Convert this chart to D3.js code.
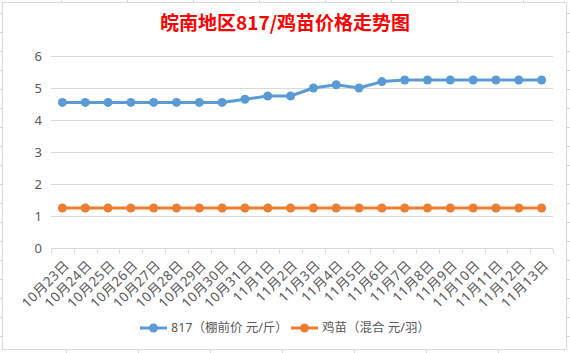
<!DOCTYPE html>
<html>
<head>
<meta charset="utf-8">
<script src="https://cdn.jsdelivr.net/npm/d3@7"></script>
<style>
  body { margin: 0; background: #fff; }
  svg text { font-family: "Noto Sans", "Noto Sans CJK SC", sans-serif; }
</style>
</head>
<body>
<svg id="drawing_region"></svg>
<script>
// chart data
const dates = ['10月23日','10月24日','10月25日','10月26日','10月27日','10月28日','10月29日','10月30日','10月31日',
    '11月1日','11月2日','11月3日','11月4日','11月5日','11月6日','11月7日','11月8日','11月9日','11月10日','11月11日','11月12日','11月13日'];
const price817 = [4.55,4.55,4.55,4.55,4.55,4.55,4.55,4.55,4.65,4.75,4.75,5.0,5.1,5.0,5.2,5.25,5.25,5.25,5.25,5.25,5.25,5.25];
const chickPrice = [1.25,1.25,1.25,1.25,1.25,1.25,1.25,1.25,1.25,1.25,1.25,1.25,1.25,1.25,1.25,1.25,1.25,1.25,1.25,1.25,1.25,1.25];
const yTicks = [0,1,2,3,4,5,6];
const seriesNames = ['817（棚前价 元/斤）', '鸡苗（混合 元/羽）'];
const seriesColors = ['#5B9BD5', '#ED7D31'];

const width = 570, height = 353;
const margin = {top: 56, right: 17, bottom: 105, left: 51};

const svg = d3.select('#drawing_region')
    .attr('width', width)
    .attr('height', height);

// spreadsheet cells peeking out round the chart
const bg = svg.append('g').attr('stroke', '#d4d4d4');
[61,127,193,259,325,391,457,523].forEach(x => {
    bg.append('line').attr('x1', x + 0.5).attr('x2', x + 0.5).attr('y1', 0).attr('y2', 3);
});
[66,138,210,282,354,426,498].forEach(x => {
    bg.append('line').attr('x1', x + 0.5).attr('x2', x + 0.5).attr('y1', 350).attr('y2', 353);
});
d3.range(13, 353, 19).forEach(y => {
    bg.append('line').attr('x1', 0).attr('x2', 3).attr('y1', y + 0.5).attr('y2', y + 0.5);
    bg.append('line').attr('x1', 567).attr('x2', 570).attr('y1', y + 0.5).attr('y2', y + 0.5);
});

// chart frame
svg.append('rect')
    .attr('x', 2.5).attr('y', 2.5)
    .attr('width', 564).attr('height', 347)
    .attr('fill', '#fff')
    .attr('stroke', '#d9d9d9');

const innerW = width - margin.left - margin.right;
const innerH = height - margin.top - margin.bottom;

const chart = svg.append('g')
    .attr('transform', `translate(${margin.left}, ${margin.top})`);

const xscale = d3.scaleBand().domain(dates).range([0, innerW]);
const yscale = d3.scaleLinear().domain([0, 6]).range([innerH, 0]);

// gridlines
chart.append('g')
    .selectAll('line')
    .data(yTicks.filter(d => d > 0))
    .join('line')
    .attr('x1', 0).attr('x2', innerW)
    .attr('y1', d => Math.round(yscale(d)) + 0.5)
    .attr('y2', d => Math.round(yscale(d)) + 0.5)
    .attr('stroke', '#d9d9d9');

// y axis labels
const yaxis = d3.axisLeft(yscale).tickValues(yTicks).tickFormat(d3.format('d')).tickSize(0).tickPadding(9);
const yaxisGroup = chart.append('g').call(yaxis);
yaxisGroup.select('.domain').remove();
yaxisGroup.selectAll('text')
    .attr('fill', '#595959')
    .style('font-size', '13px')
    .style('font-family', '"Noto Sans", sans-serif');

// x axis
const xaxisGroup = chart.append('g')
    .attr('transform', `translate(0, ${Math.round(innerH) + 0.5})`);
xaxisGroup.append('line')
    .attr('x1', 0).attr('x2', innerW)
    .attr('stroke', '#d9d9d9');
xaxisGroup.selectAll('.tick-mark')
    .data(d3.range(dates.length + 1))
    .join('line')
    .attr('class', 'tick-mark')
    .attr('x1', i => Math.round(i * xscale.step()) + 0.5)
    .attr('x2', i => Math.round(i * xscale.step()) + 0.5)
    .attr('y1', 0).attr('y2', 5)
    .attr('stroke', '#d9d9d9');
xaxisGroup.selectAll('.tick-label')
    .data(dates)
    .join('text')
    .attr('class', 'tick-label')
    .attr('transform', d => `translate(${xscale(d) + xscale.bandwidth() / 2 + 1}, 11) rotate(-45)`)
    .attr('text-anchor', 'end')
    .attr('dy', '0.7em')
    .attr('fill', '#595959')
    .style('font-size', '13.5px')
    .style('letter-spacing', '0.4px')
    .text(d => d);

// lines and markers
const allSeries = [price817, chickPrice];
const line = d3.line()
    .x((d, i) => xscale(dates[i]) + xscale.bandwidth() / 2)
    .y(d => yscale(d));

allSeries.forEach((values, k) => {
    chart.append('path')
        .datum(values)
        .attr('d', line)
        .attr('fill', 'none')
        .attr('stroke', seriesColors[k])
        .attr('stroke-width', 3)
        .attr('stroke-linejoin', 'round');
    chart.append('g')
        .selectAll('circle')
        .data(values)
        .join('circle')
        .attr('cx', (d, i) => xscale(dates[i]) + xscale.bandwidth() / 2)
        .attr('cy', d => yscale(d))
        .attr('r', 4.5)
        .attr('fill', seriesColors[k]);
});

// title
svg.append('text')
    .attr('x', width / 2)
    .attr('y', 30)
    .attr('text-anchor', 'middle')
    .attr('fill', '#ff0000')
    .style('font-size', '19px')
    .style('font-weight', 'bold')
    .style('font-family', '"Noto Sans CJK SC", sans-serif')
    .text('皖南地区817/鸡苗价格走势图');

// legend
const legendX = [140, 291];
const legend = svg.append('g').attr('transform', 'translate(0, 328)');
seriesNames.forEach((name, k) => {
    const g = legend.append('g').attr('transform', `translate(${legendX[k]}, 0)`);
    g.append('line')
        .attr('x1', 0).attr('x2', 27)
        .attr('stroke', seriesColors[k])
        .attr('stroke-width', 3);
    g.append('circle')
        .attr('cx', 13.5).attr('r', 4.5)
        .attr('fill', seriesColors[k]);
    g.append('text')
        .attr('x', 31)
        .attr('dy', '0.35em')
        .attr('fill', '#595959')
        .style('font-size', '12.5px')
        .text(name);
});
</script>
</body>
</html>
